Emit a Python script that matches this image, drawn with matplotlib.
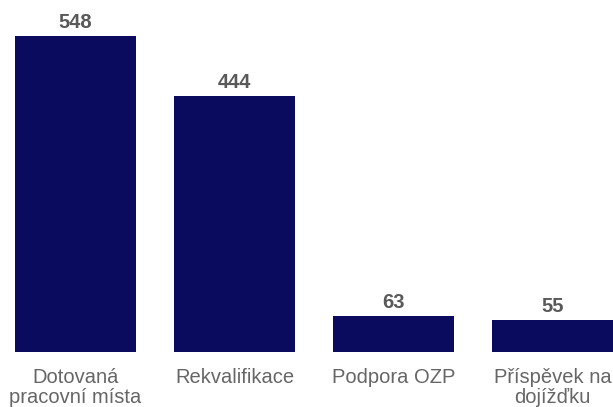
import matplotlib
matplotlib.use("Agg")
import matplotlib.pyplot as plt

categories = ["Dotovaná\npracovní místa", "Rekvalifikace", "Podpora OZP", "Příspěvek na\ndojížďku"]
values = [548, 444, 63, 55]

plt.rcParams['font.family'] = ['Liberation Sans', 'DejaVu Sans']

fig = plt.figure(figsize=(6.13, 4.07), dpi=100)
ax = fig.add_axes([0, 55/407, 1, 352/407])
x = list(range(len(categories)))
ax.bar(x, values, width=0.76, color="#0a0a5e")
ax.set_xlim(-75.5/159, (613-75.5)/159)
ax.set_ylim(0, 352/0.5766)
for xi, v in zip(x, values):
    ax.text(xi, v + 7, str(v), ha="center", va="bottom", fontsize=14.5,
            fontweight="bold", color="#595959")
ax.set_xticks(x)
ax.set_xticklabels(categories, fontsize=14.5, color="#666666", linespacing=1.08)
ax.tick_params(axis="x", length=0, pad=11.5)
ax.set_yticks([])
for s in ax.spines.values():
    s.set_visible(False)
fig.savefig("out.png", dpi=100)
